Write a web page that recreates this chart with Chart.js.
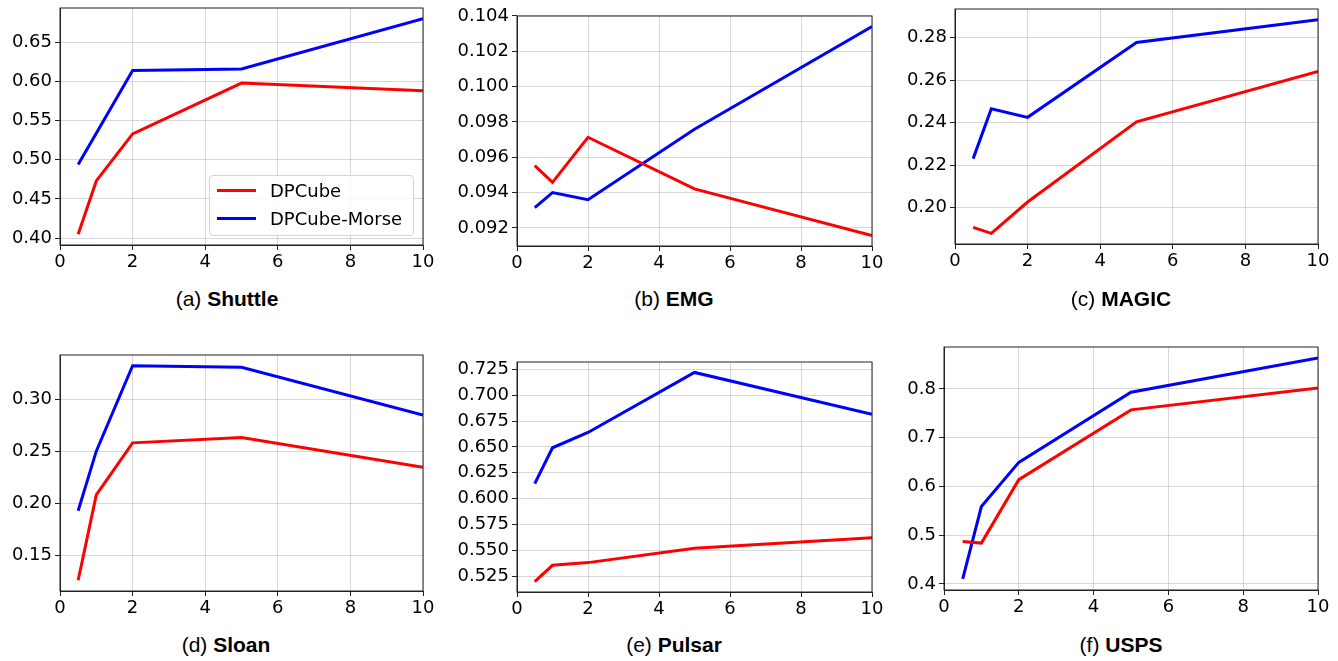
<!DOCTYPE html>
<html>
<head>
<meta charset="utf-8">
<script src="https://cdn.jsdelivr.net/npm/chart.js@4.4.1/dist/chart.umd.min.js"></script>
<style>
  html, body { margin: 0; padding: 0; background: #fff; overflow: hidden; }
  body { width: 1338px; height: 661px; position: relative; }
  canvas { position: absolute; }
  .cap { position: absolute; font-family: "Liberation Sans", Arial, sans-serif; font-size: 21px;
         line-height: 24px; white-space: nowrap; transform: translateX(-50%); color: #000; }
  .legend { position: absolute; left: 209px; top: 175px; width: 203px; height: 59px;
            border: 1px solid #d4d4d4; border-radius: 4px; background: rgba(255,255,255,0.85);
            font-family: "DejaVu Sans", sans-serif; font-size: 18px; color: #000; }
  .legend .row { position: absolute; left: 0; height: 24px; line-height: 24px; }
  .legend .swatch { position: absolute; left: 7px; top: 10px; width: 39px; height: 3px; }
  .legend .txt { position: absolute; left: 60px; top: 0; white-space: nowrap; }
</style>
</head>
<body>
<script>
// x positions shared by every panel
const xValues = [0.5, 1, 2, 5, 10];
const xTicks = [0, 2, 4, 6, 8, 10];

const seriesNames = ["DPCube", "DPCube-Morse"];
const seriesColors = ["rgb(255,0,0)", "rgb(0,0,255)"];

const captionLetters = ["a", "b", "c", "d", "e", "f"];
const datasetNames = ["Shuttle", "EMG", "MAGIC", "Sloan", "Pulsar", "USPS"];

// values
const shuttleCube = [0.405, 0.473, 0.533, 0.598, 0.588];
const shuttleMorse = [0.494, 0.534, 0.614, 0.616, 0.680];
const emgCube = [0.09553, 0.09458, 0.09713, 0.09421, 0.09157];
const emgMorse = [0.09315, 0.09400, 0.09360, 0.09758, 0.10340];
const magicCube = [0.1908, 0.1880, 0.2027, 0.2404, 0.2641];
const magicMorse = [0.2231, 0.2465, 0.2425, 0.2777, 0.2884];
const sloanCube = [0.1261, 0.2084, 0.2585, 0.2636, 0.2349];
const sloanMorse = [0.1931, 0.2505, 0.3328, 0.3313, 0.2853];
const pulsarCube = [0.5199, 0.5356, 0.5382, 0.5520, 0.5622];
const pulsarMorse = [0.6145, 0.6492, 0.6640, 0.7220, 0.6816];
const uspsCube = [0.4872, 0.4838, 0.6140, 0.7571, 0.8020];
const uspsMorse = [0.4102, 0.5588, 0.6494, 0.7932, 0.8634];

// y tick labels per panel
const shuttleTicks = [0.40, 0.45, 0.50, 0.55, 0.60, 0.65];
const emgTicks = [0.092, 0.094, 0.096, 0.098, 0.100, 0.102, 0.104];
const magicTicks = [0.20, 0.22, 0.24, 0.26, 0.28];
const sloanTicks = [0.15, 0.20, 0.25, 0.30];
const pulsarTicks = [0.525, 0.550, 0.575, 0.600, 0.625, 0.650, 0.675, 0.700, 0.725];
const uspsTicks = [0.4, 0.5, 0.6, 0.7, 0.8];
const tickDecimals = [2, 3, 2, 2, 3, 1];

const cubeSeries = [shuttleCube, emgCube, magicCube, sloanCube, pulsarCube, uspsCube];
const morseSeries = [shuttleMorse, emgMorse, magicMorse, sloanMorse, pulsarMorse, uspsMorse];
const yTickSets = [shuttleTicks, emgTicks, magicTicks, sloanTicks, pulsarTicks, uspsTicks];

// plot area of each panel: left, top, right, bottom (page px)
const plotRects = [
  [60, 8, 423, 245], [517, 16, 872, 246], [955, 9, 1318, 244],
  [60, 355, 423, 591], [517, 362, 872, 592], [944, 347, 1318, 590]
];
const captionPos = [[227, 299], [674, 299], [1121, 299], [226, 645], [674, 645], [1121, 645]];

const PADL = 70, PADT = 20, PADR = 20, PADB = 40;

const framePlugin = {
  id: "frame",
  afterDraw(chart) {
    const a = chart.chartArea, ctx = chart.ctx;
    ctx.save();
    ctx.strokeStyle = "#222";
    ctx.lineWidth = 1;
    ctx.strokeRect(a.left, a.top, a.right - a.left, a.bottom - a.top);
    ctx.restore();
  }
};

for (let i = 0; i < 6; i++) {
  const [L, T, R, B] = plotRects[i];
  const cv = document.createElement("canvas");
  const w = R - L + PADL + PADR, h = B - T + PADT + PADB;
  cv.width = w; cv.height = h;
  cv.style.left = (L - PADL) + "px";
  cv.style.top = (T - PADT) + "px";
  cv.style.width = w + "px"; cv.style.height = h + "px";
  document.body.appendChild(cv);

  const all = cubeSeries[i].concat(morseSeries[i]);
  const lo = Math.min(...all), hi = Math.max(...all);
  const m = (hi - lo) * 0.05;
  const yTicks = yTickSets[i];
  const dec = tickDecimals[i];

  const datasets = [cubeSeries[i], morseSeries[i]].map((vals, k) => ({
    label: seriesNames[k],
    data: xValues.map((x, j) => ({ x: x, y: vals[j] })),
    borderColor: seriesColors[k],
    backgroundColor: seriesColors[k],
    borderWidth: 3,
    pointRadius: 0,
    tension: 0,
    order: k
  }));

  new Chart(cv, {
    type: "line",
    data: { datasets: datasets },
    options: {
      responsive: false,
      animation: false,
      devicePixelRatio: 1,
      layout: { padding: { left: 0, top: PADT, right: PADR, bottom: 0 } },
      plugins: { legend: { display: false }, tooltip: { enabled: false } },
      scales: {
        x: {
          type: "linear", min: 0, max: 10,
          afterBuildTicks: s => { s.ticks = xTicks.map(v => ({ value: v })); },
          afterFit: s => { s.height = PADB; },
          grid: { color: "rgba(176,176,176,0.5)", lineWidth: 1, tickLength: 5, tickColor: "#222", tickWidth: 1 },
          border: { color: "#222", width: 1 },
          ticks: { color: "#000", padding: 2, font: { family: "DejaVu Sans", size: 18 }, maxRotation: 0,
                   callback: v => String(v) }
        },
        y: {
          type: "linear", min: lo - m, max: hi + m,
          afterBuildTicks: s => { s.ticks = yTicks.map(v => ({ value: v })); },
          afterFit: s => { s.width = PADL; },
          grid: { color: "rgba(176,176,176,0.5)", lineWidth: 1, tickLength: 5, tickColor: "#222", tickWidth: 1 },
          border: { color: "#222", width: 1 },
          ticks: { color: "#000", padding: 3, font: { family: "DejaVu Sans", size: 18 },
                   callback: v => Number(v).toFixed(dec) }
        }
      }
    },
    plugins: [framePlugin]
  });

  const cap = document.createElement("div");
  cap.className = "cap";
  cap.style.left = captionPos[i][0] + "px";
  cap.style.top = (captionPos[i][1] - 12) + "px";
  cap.innerHTML = "(" + captionLetters[i] + ") <b>" + datasetNames[i] + "</b>";
  document.body.appendChild(cap);
}

// legend of the first panel
const lg = document.createElement("div");
lg.className = "legend";
seriesNames.forEach((name, k) => {
  const row = document.createElement("div");
  row.className = "row";
  row.style.top = (3 + k * 27.5) + "px";
  row.innerHTML = '<span class="swatch" style="background:' + seriesColors[k] + '"></span><span class="txt">' + name + "</span>";
  lg.appendChild(row);
});
document.body.appendChild(lg);
</script>
</body>
</html>
